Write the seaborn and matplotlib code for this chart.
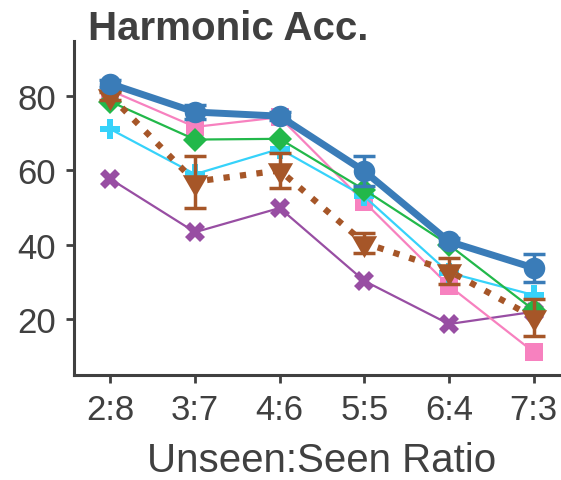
import matplotlib
matplotlib.use("Agg")
import matplotlib.pyplot as plt
import seaborn as sns
import pandas as pd
import numpy as np

ratios = ["2:8", "3:7", "4:6", "5:5", "6:4", "7:3"]
blue_vals = [83.3, 75.7, 74.6, 59.8, 40.9, 33.8]
blue_err = [1.0, 2.0, 1.0, 4.0, 1.0, 3.8]
pink_vals = [81.5, 71.7, 74.3, 51.5, 29.0, 11.2]
green_vals = [78.5, 68.3, 68.5, 54.8, 40.0, 22.5]
cyan_vals = [71.1, 59.0, 65.8, 53.0, 32.5, 26.5]
purple_vals = [57.7, 43.4, 49.9, 30.3, 18.7, 22.0]
brown_vals = [80.0, 57.0, 60.0, 40.5, 33.0, 20.5]
brown_err = [1.0, 7.0, 4.8, 2.7, 3.5, 5.0]

sns.set_theme(style="ticks")
plt.rcParams['font.family'] = ['Liberation Sans', 'DejaVu Sans']
txt = "#404040"

fig = plt.figure(figsize=(5.61, 4.81), dpi=100)
ax = fig.add_axes([74/561, 1-376/481, (570-74)/561, (376-42)/481])

x = np.arange(len(ratios))
series = [
    ("purple", purple_vals, "#984ea3", "X", 1.6, "-", 15, None),
    ("pink", pink_vals, "#f781bf", "s", 1.6, "-", 13, None),
    ("cyan", cyan_vals, "#36d2fa", "P", 1.6, "-", 15, None),
    ("green", green_vals, "#22b84a", "D", 1.6, "-", 12, None),
    ("brown", brown_vals, "#a65628", (3, 1, 180), 4.5, ":", 21, brown_err),
    ("blue", blue_vals, "#3a7cb8", "o", 5, "-", 15.5, blue_err),
]
for i, (name, vals, col, mk, lw, ls, ms, err) in enumerate(series):
    df = pd.DataFrame({"x": x, "y": vals})
    sns.lineplot(data=df, x="x", y="y", ax=ax, color=col, marker=mk,
                 markersize=ms, markeredgewidth=0, linewidth=lw,
                 linestyle=ls, zorder=2 + i)
    if err is not None:
        ax.errorbar(x, vals, yerr=err, fmt="none", ecolor=col, elinewidth=2.5,
                    capsize=8, capthick=2.5, zorder=2 + i)

ax.set_xlim(-0.43, 5.43)
ax.set_ylim(5.0, 94.8)
ax.set_xticks(x)
ax.set_xticklabels(ratios)
ax.set_yticks([20, 40, 60, 80])
ax.tick_params(axis="both", labelsize=25, colors="#404040", length=6, width=2,
               labelcolor=txt, pad=7)
for s in ["top", "right"]:
    ax.spines[s].set_visible(False)
for s in ["left", "bottom"]:
    ax.spines[s].set_linewidth(2.2)
    ax.spines[s].set_color("#404040")
ax.set_xlabel("Unseen:Seen Ratio", fontsize=29, color=txt, labelpad=11)
ax.set_ylabel("")
fig.text(88/561, 1-40/481, "Harmonic Acc.", fontsize=29, fontweight="bold",
         color=txt, va="baseline", ha="left")

fig.savefig("out.png", dpi=100)
